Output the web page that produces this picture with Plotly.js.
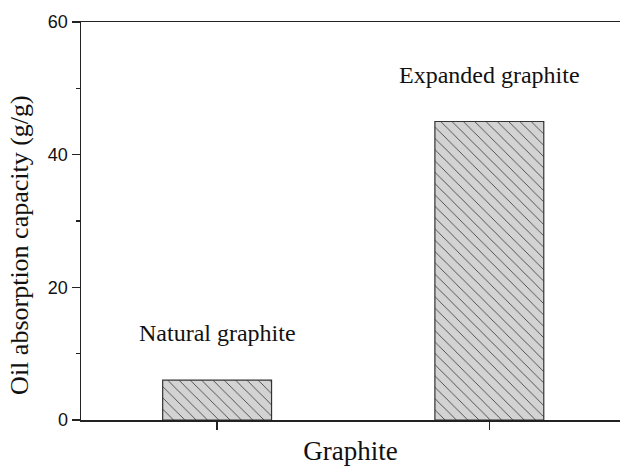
<!DOCTYPE html>
<html>
<head>
<meta charset="utf-8">
<script src="https://cdn.plot.ly/plotly-3.0.1.min.js"></script>
<style>html,body{margin:0;padding:0;background:#fff;}#chart{width:620px;height:466px;}</style>
</head>
<body>
<div id="chart"></div>
<script>
const categories = ["Natural graphite", "Expanded graphite"];
const capacity = [6, 45];
const labelY = [13.1, 52];
const yTitle = "Oil absorption capacity (g/g)";
const xTitle = "Graphite";

const serif = "Liberation Serif, Times New Roman, serif";

const trace = {
  type: "bar",
  x: categories,
  y: capacity,
  width: 0.4,
  marker: {
    color: "#d3d3d3",
    line: {color: "#333", width: 1.2},
    pattern: {shape: "\\", bgcolor: "#d3d3d3", fgcolor: "#333", size: 8, solidity: 0.1}
  },
  hoverinfo: "x+y"
};

const annotations = categories.map((c, i) => ({
  x: c, y: labelY[i], xref: "x", yref: "y",
  text: c, showarrow: false,
  font: {family: serif, size: 24, color: "#111"},
  xanchor: "center", yanchor: "middle"
}));
annotations.push({
  xref: "paper", yref: "paper", x: 0, y: 0.44,
  xanchor: "center", yanchor: "middle", xshift: -61,
  text: yTitle, textangle: -90, showarrow: false,
  font: {family: serif, size: 26, color: "#111"}
});

const layout = {
  width: 620, height: 466,
  margin: {l: 81, r: 0, t: 22, b: 46, pad: 0},
  paper_bgcolor: "#fff", plot_bgcolor: "#fff",
  showlegend: false,
  xaxis: {
    type: "category",
    range: [-0.5, 1.48],
    showgrid: false, zeroline: false,
    showline: true, linecolor: "#222", linewidth: 1.5, mirror: true,
    ticks: "outside", ticklen: 8, tickwidth: 1.5, tickcolor: "#222",
    showticklabels: false,
    title: {text: xTitle, font: {family: serif, size: 27, color: "#111"}, standoff: 12}
  },
  yaxis: {
    range: [0, 60],
    tickmode: "linear", tick0: 0, dtick: 20,
    showgrid: false, zeroline: false,
    showline: true, linecolor: "#222", linewidth: 1.5, mirror: false,
    ticks: "outside", ticklen: 8, tickwidth: 1.5, tickcolor: "#222",
    tickfont: {family: "Liberation Sans", size: 18, color: "#111"},
    minor: {tickmode: "linear", tick0: 0, dtick: 10, ticks: "outside", ticklen: 4, tickwidth: 1.5, tickcolor: "#222", showgrid: false}
  },
  annotations: annotations
};

Plotly.newPlot("chart", [trace], layout, {displayModeBar: false, staticPlot: true});
</script>
</body>
</html>
